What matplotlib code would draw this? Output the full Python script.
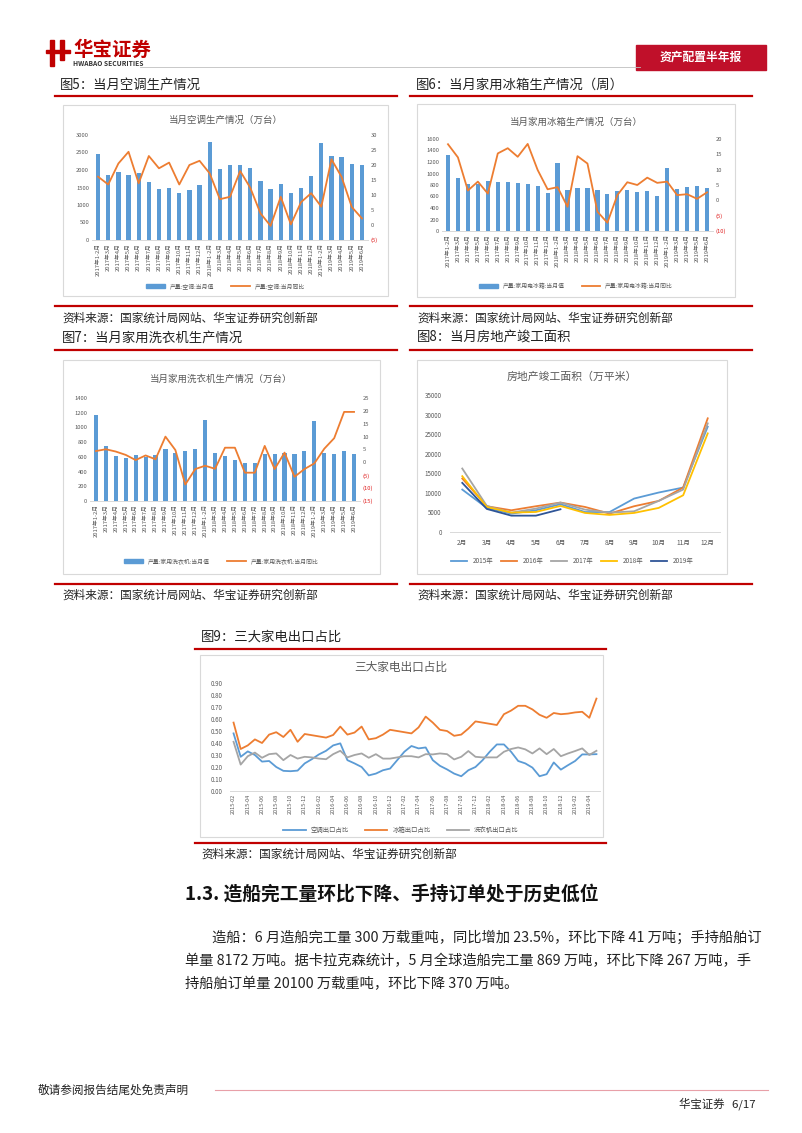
import matplotlib
matplotlib.use("Agg")
import matplotlib.pyplot as plt
from matplotlib.lines import Line2D
from matplotlib.patches import Rectangle, Patch
import numpy as np

plt.rcParams['font.family'] = ['Noto Sans CJK SC', 'DejaVu Sans']

W, H = 802, 1133

# ---------------- data ----------------
months_prod = (["2017年1-2月"] + [f"2017年{m}月" for m in range(3, 13)] +
               ["2018年1-2月"] + [f"2018年{m}月" for m in range(3, 13)] +
               ["2019年1-2月"] + [f"2019年{m}月" for m in range(3, 7)])

ac_value = [2450, 1870, 1940, 1860, 1910, 1650, 1460, 1500, 1330, 1440, 1560, 2800,
            2020, 2140, 2130, 2070, 1700, 1460, 1590, 1340, 1500, 1820, 2780, 2390,
            2360, 2170, 2130]
ac_yoy = [16.1, 13.5, 20.5, 24.4, 13.9, 23.0, 18.9, 20.8, 13.5, 20.0, 21.4, 17.2,
          8.6, 9.4, 18.0, 12.4, 3.9, -0.3, 9.4, 0.2, 7.6, 10.6, 6.1, 21.9, 16.0, 6.0, 2.2]

fr_value = [1330, 920, 820, 820, 870, 845, 850, 840, 810, 775, 660, 1175,
            715, 750, 750, 705, 640, 688, 710, 680, 695, 605, 1093, 727,
            765, 775, 740]
fr_yoy = [18.3, 14.0, 3.2, 6.1, 2.2, 15.3, 17.0, 14.2, 18.4, 9.9, 3.6, 4.3,
          -2.1, 14.4, 12.0, -3.7, -7.3, 1.7, 5.9, 5.0, 7.4, 5.7, 6.1, 1.7, 2.0, 0.5, 2.6]

wm_value = [1164, 750, 618, 582, 627, 595, 627, 709, 650, 677, 705, 1095,
            650, 614, 559, 523, 523, 636, 641, 650, 636, 686, 1082, 650,
            641, 673, 641]
wm_yoy = [4.4, 5.1, 4.2, 2.9, 0.9, 2.7, 1.2, 10.0, 4.8, -8.6, -2.6, -1.3,
          -2.5, 5.7, 5.7, -4.0, -4.0, 6.4, -2.6, 3.8, -5.6, -2.6, -0.4, 5.3, 9.4, 19.6, 19.6]

re_months = ["2月", "3月", "4月", "5月", "6月", "7月", "8月", "9月", "10月", "11月", "12月"]
re_2015 = [10840, 6150, 4700, 5550, 7100, 5100, 5100, 8540, 10080, 11360, 26900]
re_2016 = [13660, 6580, 5550, 6580, 7520, 6400, 4700, 6580, 7940, 11360, 29040]
re_2017 = [16220, 6660, 4950, 5980, 7520, 5720, 4950, 5290, 7940, 10840, 27750]
re_2018 = [14260, 6400, 4950, 5120, 6660, 4870, 4360, 4870, 6150, 9390, 25190]
re_2019 = [12550, 5890, 4180, 4180, 5800]

exp_months = [f"{y}-{m:02d}" for y in range(2015, 2020) for m in range(1, 13)][1:53]
exp_ac = [0.48, 0.285, 0.33, 0.30, 0.245, 0.25, 0.20, 0.168, 0.165, 0.17, 0.23, 0.265,
          0.305, 0.335, 0.38, 0.397, 0.257, 0.23, 0.20, 0.13, 0.145, 0.173, 0.187, 0.257,
          0.327, 0.375, 0.355, 0.363, 0.257, 0.21, 0.18, 0.145, 0.123, 0.173, 0.20, 0.257,
          0.327, 0.388, 0.388, 0.327, 0.25, 0.23, 0.195, 0.123, 0.14, 0.238, 0.178, 0.215,
          0.25, 0.305, 0.305, 0.307]
exp_fr = [0.57, 0.35, 0.38, 0.43, 0.40, 0.47, 0.49, 0.45, 0.51, 0.41, 0.475, 0.465,
          0.455, 0.445, 0.467, 0.537, 0.47, 0.487, 0.537, 0.43, 0.44, 0.47, 0.51, 0.50,
          0.49, 0.48, 0.53, 0.62, 0.57, 0.51, 0.50, 0.46, 0.47, 0.52, 0.58, 0.57,
          0.56, 0.55, 0.64, 0.67, 0.71, 0.71, 0.68, 0.635, 0.61, 0.65, 0.64, 0.645,
          0.655, 0.66, 0.61, 0.77]
exp_wm = [0.41, 0.22, 0.29, 0.32, 0.277, 0.307, 0.313, 0.257, 0.30, 0.27, 0.285, 0.28,
          0.27, 0.265, 0.307, 0.335, 0.28, 0.30, 0.313, 0.277, 0.307, 0.27, 0.27, 0.28,
          0.29, 0.29, 0.28, 0.307, 0.305, 0.313, 0.307, 0.263, 0.285, 0.333, 0.285, 0.28,
          0.28, 0.28, 0.327, 0.35, 0.363, 0.347, 0.313, 0.355, 0.307, 0.35, 0.29, 0.313,
          0.333, 0.355, 0.30, 0.335]

BLUE = '#5B9BD5'
ORANGE = '#ED7D31'
GRAY = '#A5A5A5'
YELLOW = '#FFC000'
DBLUE = '#2F5597'
RED = '#C00000'
TXT = '#595959'
DARK = '#222222'

fig = plt.figure(figsize=(W / 100, H / 100), dpi=100)


def rect(x0, y0, x1, y1):
    return [x0 / W, 1 - y1 / H, (x1 - x0) / W, (y1 - y0) / H]


def ftext(x, y, s, **kw):
    fig.text(x / W, 1 - y / H, s, **kw)


def hline(x0, x1, y, color=RED, lw=1.6):
    fig.add_artist(Line2D([x0 / W, x1 / W], [1 - y / H, 1 - y / H], color=color, lw=lw,
                          transform=fig.transFigure))


def box(x0, y0, x1, y1):
    fig.add_artist(Rectangle((x0 / W, 1 - y1 / H), (x1 - x0) / W, (y1 - y0) / H,
                             transform=fig.transFigure, fill=False, ec='#D9D9D9', lw=0.8))


def style_ax(ax):
    for s in ['top', 'right', 'left']:
        ax.spines[s].set_visible(False)
    ax.spines['bottom'].set_color('#D9D9D9')
    ax.spines['bottom'].set_linewidth(0.7)
    ax.tick_params(length=0, labelsize=4.2, colors=TXT, pad=2)


def bar_chart(bx, plot, title, ty, vals, yoy, lmax, lstep, rmin, rmax, names, legy):
    box(*bx)
    ftext((bx[0] + bx[2]) / 2, ty, title, ha='center', va='center', fontsize=6.8, color=TXT)
    ax = fig.add_axes(rect(*plot))
    x = np.arange(len(vals))
    ax.bar(x, vals, width=0.42, color=BLUE)
    ax.set_xlim(-0.6, len(vals) - 0.4)
    ax.set_ylim(0, lmax)
    ax.set_yticks(np.arange(0, lmax + 1, lstep))
    ax.set_xticks(x)
    ax.set_xticklabels(months_prod, rotation=90, fontsize=3.3)
    style_ax(ax)
    ax2 = ax.twinx()
    ax2.plot(x, yoy, color=ORANGE, lw=1.3)
    ax2.set_ylim(rmin, rmax)
    rt = np.arange(rmin, rmax + 1, 5)
    ax2.set_yticks(rt)
    ax2.set_yticklabels([f"({-v})" if v < 0 else f"{v}" for v in rt])
    for s in ax2.spines.values():
        s.set_visible(False)
    ax2.tick_params(length=0, labelsize=4.2, colors=TXT, pad=2)
    for lab, v in zip(ax2.get_yticklabels(), rt):
        if v < 0:
            lab.set_color('#E02020')
    handles = [Patch(color=BLUE), Line2D([], [], color=ORANGE, lw=1.3)]
    fig.legend(handles, names, loc='center', bbox_to_anchor=((bx[0] + bx[2]) / 2 / W, 1 - legy / H),
               ncol=2, frameon=False, fontsize=4.2, handlelength=3.2, handleheight=0.5,
               columnspacing=3, labelcolor=TXT)


# ---------------- header ----------------
fig.add_artist(Rectangle((50 / W, 1 - 66 / H), 4 / W, 26 / H, transform=fig.transFigure, color=RED))
fig.add_artist(Rectangle((60 / W, 1 - 60 / H), 4 / W, 20 / H, transform=fig.transFigure, color=RED))
fig.add_artist(Rectangle((46 / W, 1 - 53 / H), 24 / W, 3 / H, transform=fig.transFigure, color=RED))
ftext(73, 50, "华宝证券", fontsize=14, color=RED, fontweight='bold', va='center')
ftext(73, 64, "HWABAO SECURITIES", fontsize=4.8, color='#333333', va='center', fontweight='bold')
hline(140, 640, 67, color='#BFBFBF', lw=0.6)
fig.add_artist(Rectangle((636 / W, 1 - 70 / H), 130 / W, 25 / H, transform=fig.transFigure, color='#C0102A'))
ftext(701, 57.5, "资产配置半年报", fontsize=8.5, color='white', ha='center', va='center', fontweight='bold')

CAP = 9.6
SRC = 8.4
# captions & red lines
ftext(60, 85, "图5：当月空调生产情况", fontsize=CAP, va='center', color=DARK)
ftext(416, 85, "图6：当月家用冰箱生产情况（周）", fontsize=CAP, va='center', color=DARK)
hline(55, 397, 96)
hline(410, 752, 96)
hline(55, 397, 306)
hline(410, 752, 306)
ftext(62, 318, "资料来源：国家统计局网站、华宝证券研究创新部", fontsize=SRC, va='center', color=DARK)
ftext(417, 318, "资料来源：国家统计局网站、华宝证券研究创新部", fontsize=SRC, va='center', color=DARK)
ftext(62, 338, "图7：当月家用洗衣机生产情况", fontsize=CAP, va='center', color=DARK)
ftext(417, 338, "图8：当月房地产竣工面积", fontsize=CAP, va='center', color=DARK)
hline(55, 397, 350)
hline(410, 752, 350)
hline(55, 397, 584)
hline(410, 752, 584)
ftext(62, 595, "资料来源：国家统计局网站、华宝证券研究创新部", fontsize=SRC, va='center', color=DARK)
ftext(417, 595, "资料来源：国家统计局网站、华宝证券研究创新部", fontsize=SRC, va='center', color=DARK)
ftext(201, 637, "图9：三大家电出口占比", fontsize=CAP, va='center', color=DARK)
hline(195, 606, 649)
hline(195, 606, 843)
ftext(201, 854, "资料来源：国家统计局网站、华宝证券研究创新部", fontsize=SRC, va='center', color=DARK)

# ---------------- chart 5 ----------------
bar_chart((63, 105, 388, 296), (92, 135, 368, 240), "当月空调生产情况（万台）", 120,
          ac_value, ac_yoy, 3000, 500, -5, 30,
          ["产量:空调:当月值", "产量:空调:当月同比"], 286)
# ---------------- chart 6 ----------------
bar_chart((417, 104, 735, 297), (442, 139, 713, 231), "当月家用冰箱生产情况（万台）", 122,
          fr_value, fr_yoy, 1600, 200, -10, 20,
          ["产量:家用电冰箱:当月值", "产量:家用电冰箱:当月同比"], 286)
# ---------------- chart 7 ----------------
bar_chart((63, 360, 380, 574), (90, 398, 360, 501), "当月家用洗衣机生产情况（万台）", 379,
          wm_value, wm_yoy, 1400, 200, -15, 25,
          ["产量:家用洗衣机:当月值", "产量:家用洗衣机:当月同比"], 561)

# ---------------- chart 8 ----------------
box(417, 360, 727, 574)
ftext(572, 377, "房地产竣工面积（万平米）", ha='center', va='center', fontsize=7.8, color=TXT)
ax8 = fig.add_axes(rect(450, 395, 720, 532))
xm = np.arange(len(re_months))
for d, c, n in [(re_2015, BLUE, "2015年"), (re_2016, ORANGE, "2016年"), (re_2017, GRAY, "2017年"),
                (re_2018, YELLOW, "2018年"), (re_2019, DBLUE, "2019年")]:
    ax8.plot(xm[:len(d)], d, color=c, lw=1.3, label=n)
ax8.set_xlim(-0.5, len(re_months) - 0.5)
ax8.set_ylim(0, 35000)
ax8.set_yticks(np.arange(0, 35001, 5000))
ax8.set_xticks(xm)
ax8.set_xticklabels(re_months)
style_ax(ax8)
ax8.tick_params(axis='x', labelsize=4.8, pad=5)
ax8.tick_params(axis='y', labelsize=4.5, pad=6)
ax8.legend(loc='center', bbox_to_anchor=(572 / W, 1 - 561 / H), bbox_transform=fig.transFigure,
           ncol=5, frameon=False, fontsize=4.6, handlelength=2.6, columnspacing=1.2, labelcolor=TXT)

# ---------------- chart 9 ----------------
box(200, 655, 603, 837)
ftext(401, 667, "三大家电出口占比", ha='center', va='center', fontsize=8.4, color=TXT)
ax9 = fig.add_axes(rect(230, 683, 600, 791))
xe = np.arange(len(exp_months))
ax9.plot(xe, exp_ac, color=BLUE, lw=1.3, label="空调出口占比")
ax9.plot(xe, exp_fr, color=ORANGE, lw=1.3, label="冰箱出口占比")
ax9.plot(xe, exp_wm, color=GRAY, lw=1.3, label="洗衣机出口占比")
ax9.set_xlim(-0.5, len(exp_months) - 0.5)
ax9.set_ylim(0, 0.9)
ax9.set_yticks(np.arange(0, 0.91, 0.1))
ax9.set_yticklabels([f"{v:.2f}" for v in np.arange(0, 0.91, 0.1)])
ax9.set_xticks(xe[::2])
ax9.set_xticklabels(exp_months[::2], rotation=90)
style_ax(ax9)
ax9.tick_params(axis='x', labelsize=4.0)
ax9.tick_params(axis='y', labelsize=4.5, pad=5)
ax9.legend(loc='center', bbox_to_anchor=(401 / W, 1 - 830 / H), bbox_transform=fig.transFigure,
           ncol=3, frameon=False, fontsize=4.6, handlelength=3.5, columnspacing=2.5, labelcolor=TXT)

# ---------------- body text ----------------
ftext(185, 894, "1.3. 造船完工量环比下降、手持订单处于历史低位", fontsize=13.5, fontweight='bold',
      va='center', color='#111111')
BODY = 10.3
ftext(212, 938, "造船：6 月造船完工量 300 万载重吨，同比增加 23.5%，环比下降 41 万吨；手持船舶订",
      fontsize=BODY, va='center', color=DARK)
ftext(185, 961, "单量 8172 万吨。据卡拉克森统计，5 月全球造船完工量 869 万吨，环比下降 267 万吨，手",
      fontsize=BODY, va='center', color=DARK)
ftext(185, 984, "持船舶订单量 20100 万载重吨，环比下降 370 万吨。",
      fontsize=BODY, va='center', color=DARK)

# ---------------- footer ----------------
ftext(38, 1090, "敬请参阅报告结尾处免责声明", fontsize=8.4, va='center', color=DARK)
hline(215, 768, 1090, color='#E8A0A8', lw=0.8)
ftext(756, 1104, "华宝证券   6/17", fontsize=8.2, va='center', ha='right', color=DARK)

fig.savefig("out.png", dpi=100)
